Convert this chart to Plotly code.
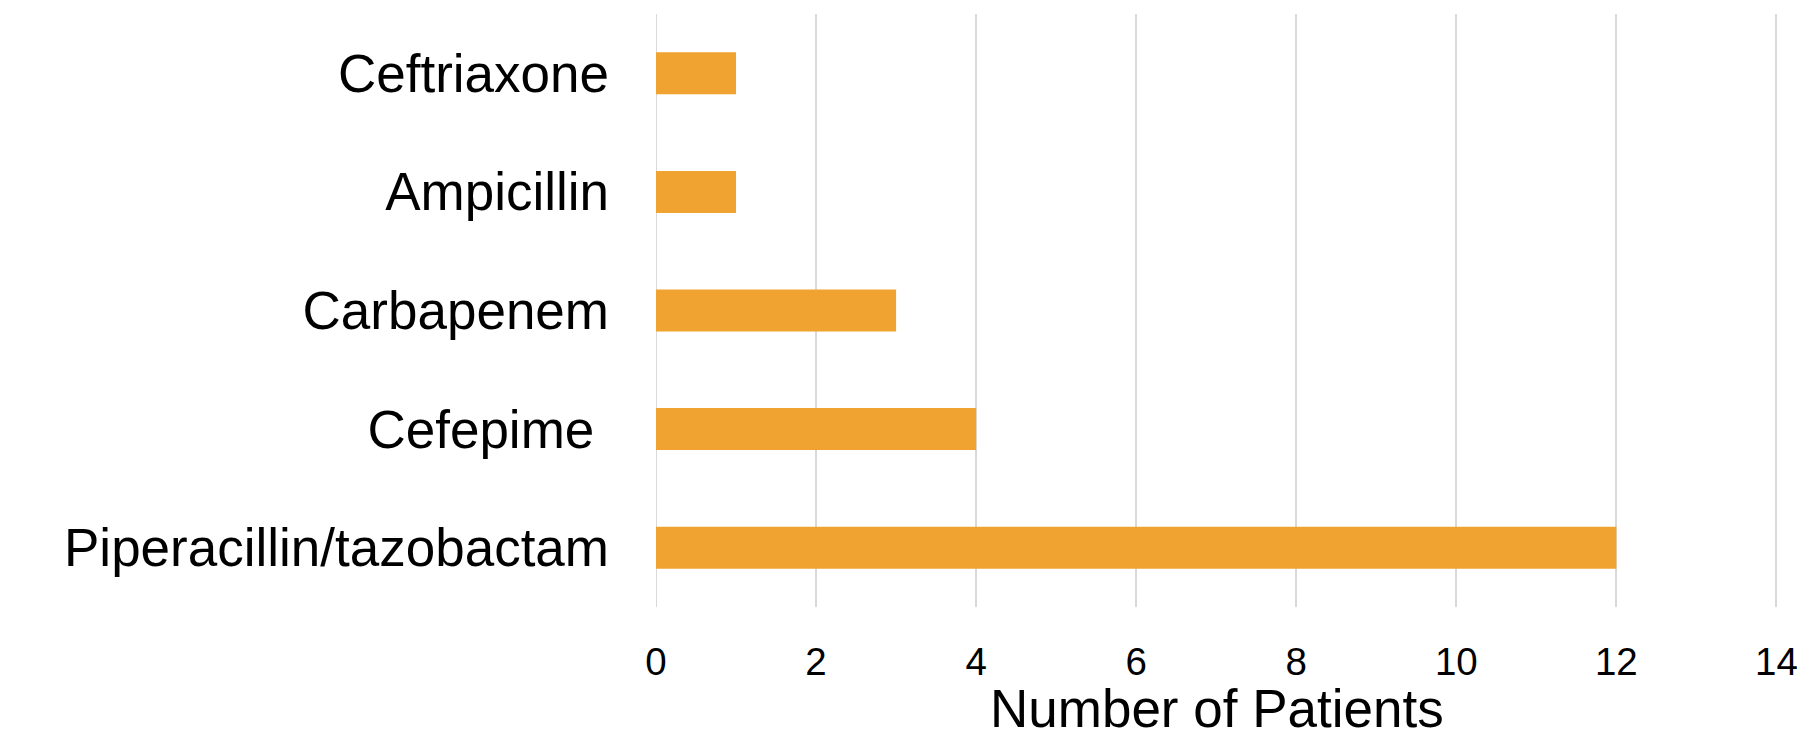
import plotly.graph_objects as go

categories = ["Ceftriaxone", "Ampicillin", "Carbapenem", "Cefepime ", "Piperacillin/tazobactam"]
patients = [1, 1, 3, 4, 12]
x_ticks = [0, 2, 4, 6, 8, 10, 12, 14]
x_title = "Number of Patients"

FONT = "Liberation Sans, Arial, sans-serif"

fig = go.Figure(go.Bar(
    x=patients, y=categories, orientation="h",
    marker=dict(color="#F0A330", line=dict(width=0)),
    width=0.354,
))

fig.update_layout(
    width=1797, height=741,
    margin=dict(l=656, r=19, t=14, b=134),
    paper_bgcolor="white", plot_bgcolor="white",
    font=dict(family=FONT, color="black"),
    showlegend=False,
    xaxis=dict(
        range=[0, 14.02], tickvals=x_ticks, ticktext=[str(v) for v in x_ticks],
        showgrid=True, gridcolor="#d9d9d9", gridwidth=2,
        zeroline=False, showline=False, automargin=False,
        ticklabeloverflow="allow",
        tickfont=dict(size=38.5, family=FONT, color="black"),
        ticklabelstandoff=28,
        fixedrange=True,
    ),
    yaxis=dict(
        categoryorder="array", categoryarray=categories, autorange="reversed",
        showgrid=False, zeroline=False, showline=False, automargin=False,
        tickfont=dict(size=53, family=FONT, color="black"),
        ticklabelstandoff=46,
        fixedrange=True,
    ),
)

fig.add_annotation(text=x_title, xref="paper", yref="paper", x=0.5, y=0,
                   xanchor="center", yanchor="middle", yshift=-101, showarrow=False,
                   font=dict(size=53, family=FONT, color="black"))

fig.add_shape(type="line", xref="x", yref="paper", x0=0, x1=0, y0=0, y1=1,
              line=dict(color="#d9d9d9", width=2), layer="below")

fig.write_html("out.html")
